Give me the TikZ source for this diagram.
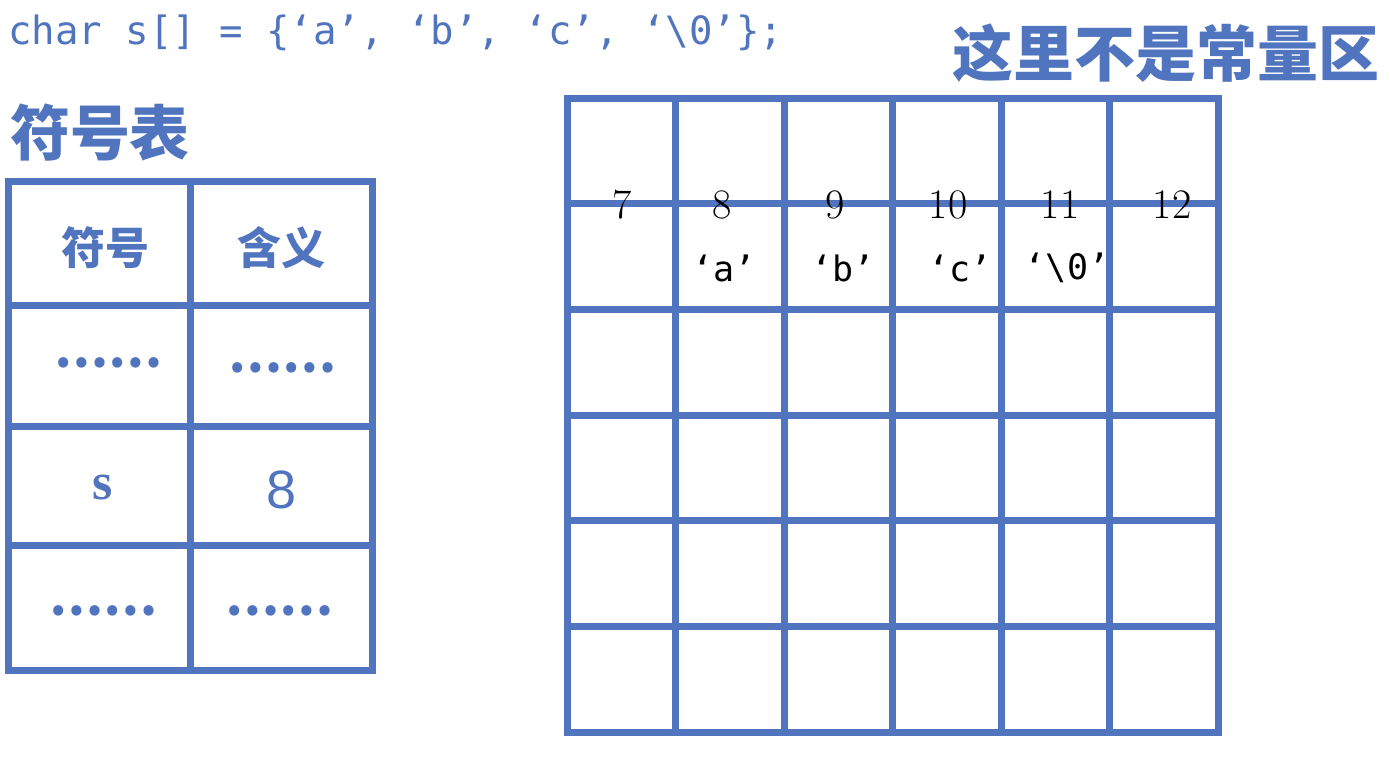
\documentclass[tikz,border=0pt]{standalone}
\usepackage{fontspec}
\setmonofont{DejaVu Sans Mono}
\newfontfamily\cjk{Noto Sans CJK SC}
\newfontfamily\serifs{Liberation Serif}
\newfontfamily\sanss{Liberation Sans}
\definecolor{tblue}{RGB}{80,116,190}
\newcommand\fsz[1]{\fontsize{#1}{#1}\selectfont}

\begin{document}
\begin{tikzpicture}[x=1pt,y=-1pt,
  tbl/.style={line width=7pt,draw=tblue,line cap=rect},
  lbl/.style={inner sep=0pt,text=tblue},
  num/.style={inner sep=0pt,font=\fsz{42}},
  chr/.style={inner sep=0pt,font=\ttfamily\fsz{35}}]
  \useasboundingbox (0,0) rectangle (1390,764);

  % headings
  \node[lbl,anchor=base west] (code) at (8,44)
    {\ttfamily\fsz{39}char s[] = \{‘a’, ‘b’, ‘c’, ‘\textbackslash 0’\};};
  \node[lbl] (title) at (1166,53) {\cjk\bfseries\fsz{61}这里不是常量区};
  \node[lbl] (symtitle) at (100,133) {\cjk\bfseries\fsz{60}符号表};

  % symbol table
  \foreach \y in {181,305,426,545,670}
    \draw[tbl] (8,\y) -- (372,\y);
  \foreach \x in {8,190,372}
    \draw[tbl] (\x,181) -- (\x,670);
  \node[lbl] (hdsym) at (105,248) {\cjk\bfseries\fsz{44}符号};
  \node[lbl] (hdmean) at (281,248) {\cjk\bfseries\fsz{44}含义};
  \node[lbl] (r1sym) at (108,363) {\cjk\bfseries\fsz{48}……};
  \node[lbl] (r1mean) at (282,368) {\cjk\bfseries\fsz{48}……};
  \node[lbl] (ssym) at (103,487) {\serifs\bfseries\fsz{52}s};
  \node[lbl] (sval) at (282,490) {\sanss\fsz{54}8};
  \node[lbl] (r3sym) at (103,611) {\cjk\bfseries\fsz{48}……};
  \node[lbl] (r3mean) at (279,611) {\cjk\bfseries\fsz{48}……};

  % memory grid
  \foreach \i in {0,...,6} {
    \draw[tbl] (567+108.5*\i,98) -- (567+108.5*\i,732);
    \draw[tbl] (567,98+105.7*\i) -- (1218,98+105.7*\i);
  }
  \foreach \x/\t in {622/7,722/8,835/9,948/10,1060/11,1172/12}
    \node[num] (n\t) at (\x,205) {\t};
  \foreach \x/\c/\t in {724/a/‘a’,843/b/‘b’,960/c/‘c’,1067/z/‘\textbackslash 0’}
    \node[chr] (c\c) at (\x,268) {\t};
\end{tikzpicture}
\end{document}
